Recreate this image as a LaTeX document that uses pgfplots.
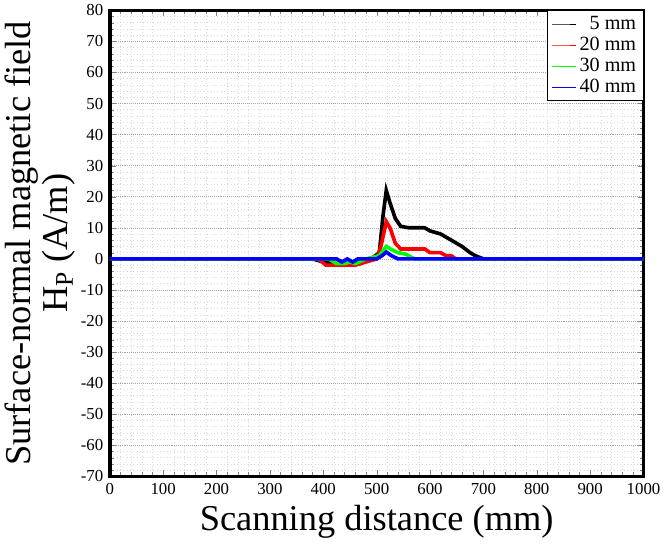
\documentclass[border=0pt]{standalone}
\usepackage{pgfplots}
\pgfplotsset{compat=1.18}
\usepackage{fontspec}
\setmainfont{Liberation Serif}
\begin{document}
\begin{tikzpicture}
\begin{axis}[width=13.4cm,height=11.7cm,scale only axis,
 xmin=0,xmax=1000,ymin=-70,ymax=80,
 xtick={0,100,...,1000},ytick={-70,-60,...,80},
 minor x tick num=4, minor y tick num=4,
 tick align=inside,
 /pgf/number format/assume math mode=true,
 /pgf/number format/1000 sep={},
 tick label style={font=\large},
 xlabel={\fontsize{26}{30}\selectfont Scanning distance (mm)},
 ylabel={\fontsize{26}{28}\selectfont\shortstack{Surface-normal magnetic field\\H$_\mathrm{P}$ (A/m)}},
 ylabel style={yshift=-4pt},
 ymajorgrids, yminorgrids, xminorgrids,
 major grid style={densely dotted,gray!70},
 minor grid style={dotted,gray!30},
 legend style={at={(1,1)},anchor=north east,font=\Large,draw=black,line width=0.6pt},
 legend cell align=left, line width=2.6pt]
\addplot[black] coordinates {(0,0)(380,0)(400,-1)(420,-1.5)(470,-1.5)(490,0)(505,2)(512,14)(518,22)(525,18)(535,13)(545,10.5)(560,10)(590,10)(600,9)(620,8)(640,6)(660,4)(675,2)(685,1)(700,0)(1000,0)};
\addlegendentry{\ \ 5 mm}
\addplot[red] coordinates {(0,0)(390,0)(405,-2)(460,-2)(480,-1)(500,0)(508,4)(518,12)(525,10)(535,5)(545,3.2)(590,3.2)(600,2)(620,2)(630,1)(640,1)(648,0)(1000,0)};
\addlegendentry{20 mm}
\addplot[green] coordinates {(0,0)(410,0)(425,-1.5)(440,-1.5)(450,-1)(460,-1.5)(480,0)(505,1)(518,4)(528,3)(540,2)(555,1.5)(565,0.5)(572,0)(1000,0)};
\addlegendentry{30 mm}
\addplot[blue] coordinates {(0,0)(425,0)(435,-1)(445,0)(455,-1)(465,0)(500,0)(510,1)(518,2.2)(528,1)(540,0)(1000,0)};
\addlegendentry{40 mm}
\end{axis}
\end{tikzpicture}
\end{document}
